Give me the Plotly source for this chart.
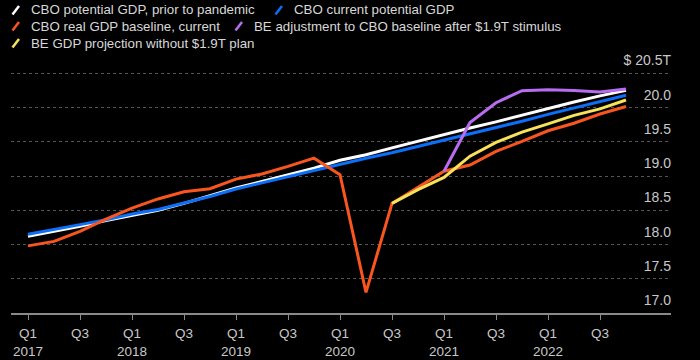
import plotly.graph_objects as go

quarters = [f"Q{q} {y}" for y in range(2017, 2023) for q in range(1, 5)]

cbo_potential_prior = [18.12, 18.19, 18.265, 18.35, 18.425, 18.50, 18.60, 18.71,
                       18.825, 18.92, 19.02, 19.115, 19.23, 19.31, 19.41, 19.51,
                       19.60, 19.70, 19.79, 19.89, 19.98, 20.08, 20.17, 20.25]
cbo_potential_current = [18.15, 18.215, 18.29, 18.36, 18.445, 18.51, 18.605, 18.70,
                         18.81, 18.90, 18.995, 19.09, 19.18, 19.26, 19.34, 19.43,
                         19.53, 19.62, 19.71, 19.80, 19.90, 19.99, 20.08, 20.18]
cbo_real_gdp = [17.98, 18.045, 18.19, 18.37, 18.53, 18.665, 18.77, 18.815,
                18.955, 19.03, 19.14, 19.26, 19.02, 17.30, 18.60, 18.83,
                19.07, 19.16, 19.36, 19.505, 19.66, 19.77, 19.905, 20.015]
be_no_plan = [18.60, 18.80, 18.98, 19.29, 19.49, 19.64, 19.76, 19.885, 19.98, 20.11]
be_stimulus = [19.07, 19.78, 20.07, 20.245, 20.26, 20.25, 20.225, 20.27]

y_ticks = [17.0, 17.5, 18.0, 18.5, 19.0, 19.5, 20.0, 20.5]
y_ticktext = ["17.0", "17.5", "18.0", "18.5", "19.0", "19.5", "20.0", "$ 20.5T"]

series = [
    ("CBO potential GDP, prior to pandemic", quarters, cbo_potential_prior, "#ffffff"),
    ("CBO current potential GDP", quarters, cbo_potential_current, "#0d6ef8"),
    ("CBO real GDP baseline, current", quarters, cbo_real_gdp, "#f9561f"),
    ("BE GDP projection without $1.9T plan", quarters[14:], be_no_plan, "#f7e25a"),
    ("BE adjustment to CBO baseline after $1.9T stimulus", quarters[16:], be_stimulus, "#b86cf0"),
]

W, H = 700, 360
PLOT_L, PLOT_R, PLOT_T, PLOT_B = 11, 671, 45, 313
PW, PH = PLOT_R - PLOT_L, PLOT_B - PLOT_T
PX_PER_T = 68.5

def px(x):
    return (x - PLOT_L) / PW

def py(y):
    return (PLOT_B - y) / PH

fig = go.Figure()
for name, xs, ys, col in series:
    fig.add_trace(go.Scatter(x=xs, y=ys, mode="lines", name=name,
                             line=dict(color=col, width=3), showlegend=False))

# legend (drawn manually, Bloomberg style)
legend_pos = {
    "CBO potential GDP, prior to pandemic": (12, 10),
    "CBO current potential GDP": (275, 10),
    "CBO real GDP baseline, current": (12, 26),
    "BE adjustment to CBO baseline after $1.9T stimulus": (235, 26),
    "BE GDP projection without $1.9T plan": (12, 43),
}
for name, xs, ys, col in series:
    lx, ly = legend_pos[name]
    fig.add_shape(type="line", xref="paper", yref="paper",
                  x0=px(lx + 0.5), y0=py(ly + 4.5), x1=px(lx + 7), y1=py(ly - 4),
                  line=dict(color=col, width=2.5))
    fig.add_annotation(text=name, xref="paper", yref="paper", x=px(lx + 17), y=py(ly),
                       xanchor="left", yanchor="middle", showarrow=False,
                       font=dict(size=13.3, color="#d8d8d8"))

tickvals = quarters[::2]
ticktext = [q.replace(" ", "<br>") if q.startswith("Q1") else q.split(" ")[0] for q in tickvals]

fig.update_layout(
    width=W, height=H,
    margin=dict(l=PLOT_L, r=W - PLOT_R, t=PLOT_T, b=H - PLOT_B, pad=0, autoexpand=False),
    paper_bgcolor="#000000", plot_bgcolor="#000000",
    font=dict(family="Liberation Sans, Arial, sans-serif", color="#c8c8c8", size=13),
    xaxis=dict(type="category", categoryorder="array", categoryarray=quarters,
               range=[(PLOT_L - 28) / 26, (PLOT_R - 28) / 26], tickvals=tickvals, ticktext=ticktext,
               showgrid=False, zeroline=False, showline=True, linecolor="#8a8a8a",
               linewidth=2, ticks="outside", ticklen=5, tickcolor="#8a8a8a",
               ticklabelstandoff=2,
               automargin=False, tickfont=dict(size=13.5, color="#c8c8c8")),
    yaxis=dict(side="right", range=[17.0, 17.0 + PH / PX_PER_T], tickvals=y_ticks,
               ticktext=y_ticktext, ticklabelposition="inside top", ticklabelshift=-3,
               ticklabelstandoff=-3, automargin=False,
               showgrid=True, gridcolor="#555555", griddash="dot", gridwidth=1,
               zeroline=False, showline=False, ticks="",
               tickfont=dict(size=14, color="#c8c8c8")),
)

fig.write_html("out.html", config={"displayModeBar": False},
               post_script="document.body.style.margin='0';")
